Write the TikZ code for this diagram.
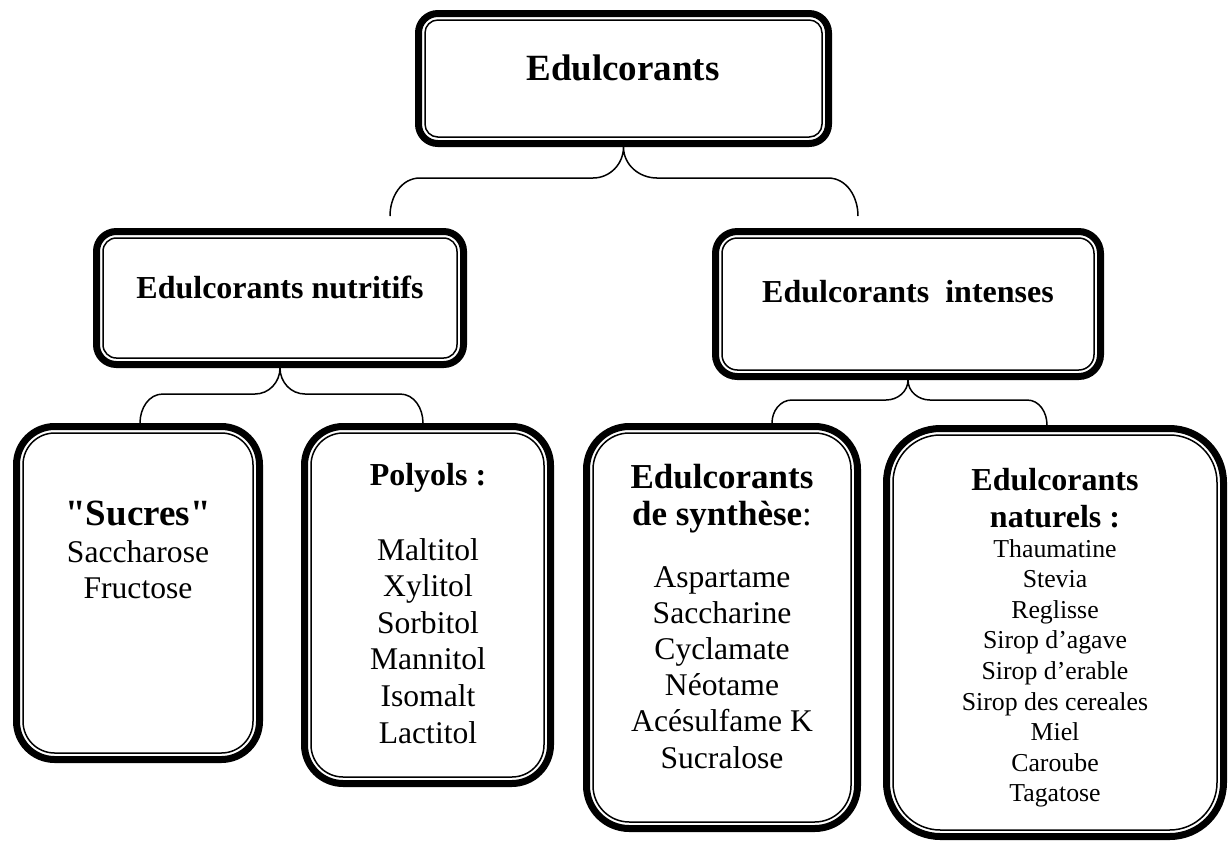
\documentclass[tikz,border=0pt]{standalone}
\usepackage{fontspec}
\setmainfont{Liberation Serif}
\usepackage{tikz}
\tikzstyle{EdOuter}=[draw,line width=3.5pt,inner sep=0pt]
\tikzstyle{EdInner}=[draw,line width=0.75pt]
\tikzstyle{BraceLine}=[line width=0.75pt]
\tikzstyle{TxtBase}=[inner sep=0pt,anchor=base]
\tikzstyle{HeadBig}=[TxtBase,font=\bfseries\fontsize{18.5}{22}\selectfont]
\tikzstyle{HeadMid}=[TxtBase,font=\bfseries\fontsize{17.5}{21}\selectfont]
\tikzstyle{HeadSmall}=[TxtBase,font=\bfseries\fontsize{16}{19}\selectfont]
\tikzstyle{ItemText}=[TxtBase,font=\fontsize{15.8}{18}\selectfont]
\tikzstyle{ItemSmall}=[TxtBase,font=\fontsize{12.9}{15}\selectfont]
% box with thick outer line and thin inner line, corners in px
\newcommand{\EdBox}[5]{%
  \pgfmathsetmacro\bw{#4-#2}\pgfmathsetmacro\bh{#5-#3}%
  \pgfmathsetmacro\br{min(\bw,\bh)/6}%
  \pgfmathsetmacro\bro{(\br-3.5)*0.5}\pgfmathsetmacro\bri{(\br-10)*0.5}%
  \node[EdOuter,rounded corners=\bro pt,minimum width=(\bw-7)*0.5pt,
    minimum height=(\bh-7)*0.5pt](#1)at({(#2+#4)/2},{(#3+#5)/2}){};
  \draw[EdInner,rounded corners=\bri pt]([shift={(5pt,-5pt)}]#1.north west)
    rectangle([shift={(-5pt,5pt)}]#1.south east);}

\begin{document}
\begin{tikzpicture}[x=0.5pt,y=-0.5pt]
    \useasboundingbox (0,0) rectangle (1228,843);
    % boxes
    \EdBox{top}{415}{10}{832}{147}
    \EdBox{nutritifs}{93}{228}{467}{368}
    \EdBox{intenses}{712}{228}{1104}{380}
    \EdBox{sucres}{13}{423}{263}{763}
    \EdBox{polyols}{301}{423}{554}{787}
    \EdBox{synthese}{583}{423}{861}{832}
    \EdBox{naturels}{883}{425}{1227}{840}
    % texts
    \node[HeadBig](top-t)at(623,80){Edulcorants};
    \node[HeadSmall](nutritifs-t)at(280,298){Edulcorants nutritifs};
    \node[HeadSmall](intenses-t)at(908,302){Edulcorants~~intenses};
    \node[HeadBig](sucres-t)at(138,525){\textquotedbl Sucres\textquotedbl};
    \foreach \nm [count=\i from 0] in {Saccharose,Fructose}
        \node[ItemText](sucres-\i)at(138,{562+36.5*\i}){\nm};
    \node[HeadSmall](polyols-t)at(428,485){Polyols :};
    \foreach \nm [count=\i from 0] in {Maltitol,Xylitol,Sorbitol,Mannitol,Isomalt,Lactitol}
        \node[ItemText](polyols-\i)at(428,{560+36.6*\i}){\nm};
    \node[HeadMid](synthese-t)at(722,488){Edulcorants};
    \node[HeadMid](synthese-u)at(722,525){de synthèse\mdseries:};
    \foreach \nm [count=\i from 0] in {Aspartame,Saccharine,Cyclamate,Néotame,Acésulfame K,Sucralose}
        \node[ItemText](synthese-\i)at(722,{587+36.2*\i}){\nm};
    \node[HeadSmall](naturels-t)at(1055,490){Edulcorants};
    \node[HeadSmall](naturels-u)at(1055,527){naturels :};
    \foreach \nm [count=\i from 0] in {Thaumatine,Stevia,Reglisse,Sirop d'agave,Sirop d'erable,Sirop des cereales,Miel,Caroube,Tagatose}
        \node[ItemSmall](naturels-\i)at(1055,{557+30.6*\i}){\nm};
    % braces
    \coordinate(top-l)at(390,216);
    \coordinate(top-r)at(858,216);
    \draw[BraceLine](top-l)to[out=90,in=180](420,178)--(593,178)
        to[out=0,in=-90](top.south)to[out=-90,in=180](657,178)--(828,178)
        to[out=0,in=90](top-r);
    \draw[BraceLine](sucres.north-|140,0)to[out=90,in=180](163,394)--(255,394)
        to[out=0,in=-90](nutritifs.south)to[out=-90,in=180](305,394)--(400,394)
        to[out=0,in=90](polyols.north-|423,0);
    \draw[BraceLine](synthese.north-|772,0)to[out=90,in=180](792,400)--(886,400)
        to[out=0,in=-90](intenses.south)to[out=-90,in=180](930,400)--(1027,400)
        to[out=0,in=90](naturels.north-|1047,0);
\end{tikzpicture}
\end{document}
